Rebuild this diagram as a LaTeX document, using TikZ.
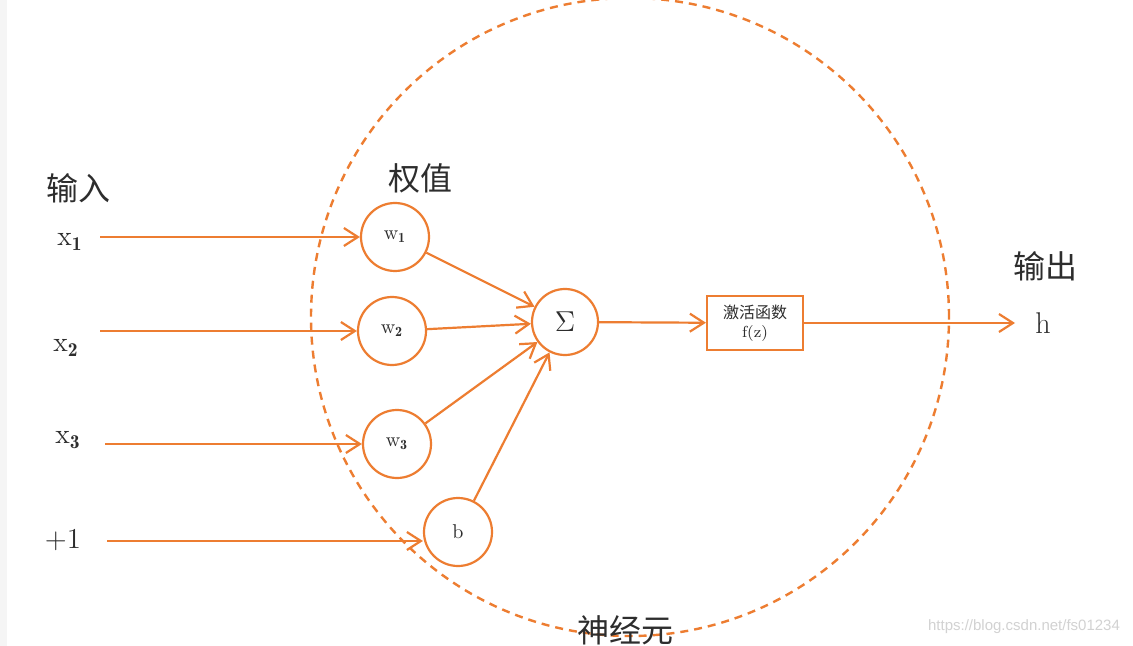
\documentclass[tikz,border=0pt]{standalone}
\usepackage{fontspec}
\newfontfamily\cjk{Noto Sans CJK SC}
\newfontfamily\wmfont{Liberation Sans}
\usetikzlibrary{arrows.meta, positioning}
\definecolor{actorange}{RGB}{237,125,49}
\definecolor{inkgray}{RGB}{45,45,45}

\begin{document}
\begin{tikzpicture}[
    x=0.5pt, y=-0.5pt,
    weight/.style={circle, draw=actorange, line width=1.1pt, minimum size=34pt, inner sep=0pt, text=inkgray, font=\fontsize{10}{12}\selectfont},
    act/.style={rectangle, draw=actorange, line width=1.1pt, minimum width=48pt, minimum height=27pt, align=center, inner sep=1pt, text=inkgray, font=\fontsize{8}{9.5}\selectfont},
    lbl/.style={text=inkgray, inner sep=0pt, font=\fontsize{14}{16}\selectfont},
    title/.style={text=inkgray, inner sep=0pt, font=\cjk\fontsize{16}{18}\selectfont},
    arrow/.style={-{Straight Barb[length=7pt,width=9pt]}, draw=actorange, line width=1.1pt}
]
\useasboundingbox (0,0) rectangle (1133,646);
\fill[white] (0,0) rectangle (1133,646);
\fill[gray!8] (0,0) rectangle (7,646);

% neuron boundary
\node[circle, draw=actorange, dashed, dash pattern=on 4pt off 3pt, line width=1.2pt, minimum size=319pt, inner sep=0pt] (neuron) at (630,317) {};

% inputs
\node[lbl] (x1) at (70,242) {$\mathrm{x}_{\mathbf{1}}$};
\node[lbl] (x2) at (66,348) {$\mathrm{x}_{\mathbf{2}}$};
\node[lbl] (x3) at (68,440) {$\mathrm{x}_{\mathbf{3}}$};
\node[lbl] (one) at (63,540) {$+1$};
\coordinate (in1) at (100,237);
\coordinate (in2) at (100,331);
\coordinate (in3) at (105,444);
\coordinate (in4) at (107,541);

% weights
\node[weight] (w1) at (395,237) {$\mathrm{w}_{\mathbf{1}}$};
\node[weight] (w2) at (392,331) {$\mathrm{w}_{\mathbf{2}}$};
\node[weight] (w3) at (397,444) {$\mathrm{w}_{\mathbf{3}}$};
\node[weight] (b) at (458,532) {$\mathrm{b}$};

% sum, activation, output
\node[weight, minimum size=33pt, font=\fontsize{15}{17}\selectfont] (sum) at (565,322) {$\Sigma$};
\node[act] (actfn) at (755,323) {{\cjk 激活函数}\\$\mathrm{f(z)}$};
\coordinate (out) at (1015,323);
\node[lbl, font=\fontsize{15}{17}\selectfont] (h) at (1043,323) {$\mathrm{h}$};

% titles
\node[title] (tin) at (78,188) {输入};
\node[title] (tw) at (420,178) {权值};
\node[title] (tout) at (1045,266) {输出};
\node[title] (tneuron) at (625,630) {神经元};
\node[text=gray!35, font=\wmfont\fontsize{7.5}{9}\selectfont, inner sep=0pt] (wm) at (1024,627) {https://blog.csdn.net/fs01234};

\draw[arrow] (in1) -- (w1.west);
\draw[arrow] (in2) -- (w2.west);
\draw[arrow] (in3) -- (w3.west);
\draw[arrow] (in4) -- (in4 -| b.west);
\draw[arrow] (w1) -- (sum);
\draw[arrow] (w2) -- (sum);
\draw[arrow] (w3) -- (sum);
\draw[arrow] (b) -- (sum);
\draw[arrow] (sum) -- (actfn);
\draw[arrow] (actfn) -- (out);
\end{tikzpicture}
\end{document}
